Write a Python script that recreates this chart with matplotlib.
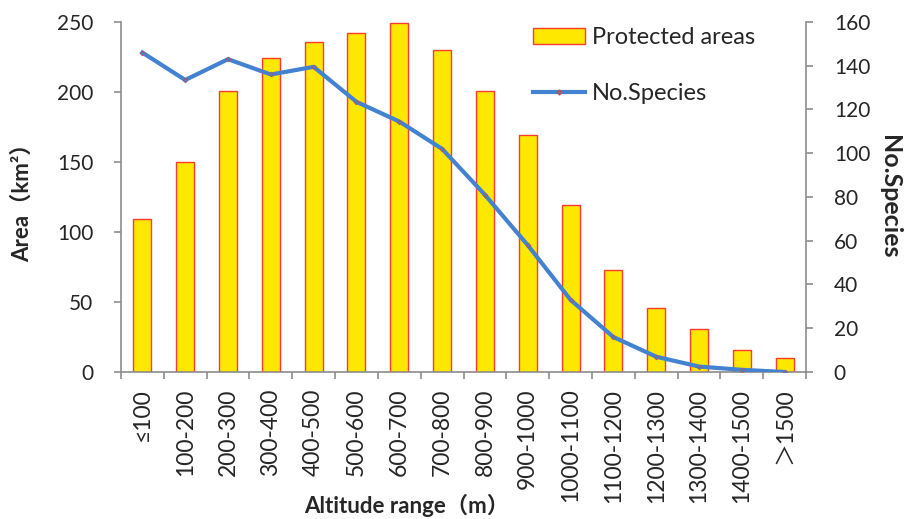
import matplotlib
matplotlib.use("Agg")
import matplotlib.pyplot as plt
from matplotlib.lines import Line2D
from matplotlib.patches import Patch

plt.rcParams['font.family'] = ['Lato', 'Noto Sans CJK SC', 'DejaVu Sans']

categories = ["≤100", "100-200", "200-300", "300-400", "400-500", "500-600", "600-700",
              "700-800", "800-900", "900-1000", "1000-1100", "1100-1200", "1200-1300",
              "1300-1400", "1400-1500", "＞1500"]
area = [109, 150, 201, 224, 236, 242, 249, 230, 201, 169, 119, 73, 46, 31, 16, 10]
species = [146, 133.5, 143, 136, 139.5, 123.5, 114.5, 102, 81, 58, 33, 16, 7, 2.5, 1, 0]

axis_col = "#8c8c8c"
text_col = "#262626"

fig = plt.figure(figsize=(9.05, 5.19), dpi=100)
ax = fig.add_axes([121/905, 1-372/519, (806-121)/905, (372-22)/519])
ax2 = ax.twinx()

x = list(range(len(categories)))
ax.bar(x, area, width=0.42, color="#FFE800", edgecolor="#FF3B30", linewidth=1.0, zorder=2)
ax2.plot(x, species, color="#4382D0", linewidth=3, marker="D", markersize=2.5,
         markerfacecolor="#4382D0", markeredgecolor="#c05050", markeredgewidth=0.5, zorder=3)

ax.set_xlim(-0.5, len(categories) - 0.5)
ax.set_ylim(0, 250)
ax2.set_ylim(0, 160)
ax.set_yticks(range(0, 251, 50))
ax2.set_yticks(range(0, 161, 20))

ax.set_xticks(x)
ax.set_xticklabels(categories, rotation=90, fontsize=16.5, color=text_col)
ax.tick_params(axis='x', length=0, pad=12)
ax.set_xticks([i - 0.5 for i in range(len(categories) + 1)], minor=True)
ax.tick_params(axis='x', which='minor', length=5, width=1.2, color=axis_col, direction='out')

ax.tick_params(axis='y', labelsize=15, labelcolor=text_col, color=axis_col, length=5,
               width=1.2, direction='out', pad=15)
ax2.tick_params(axis='y', labelsize=15, labelcolor=text_col, color=axis_col, length=5,
                width=1.2, direction='out', pad=15)

for a in (ax, ax2):
    a.spines['top'].set_visible(False)
ax.spines['right'].set_visible(False)
ax2.spines['left'].set_visible(False)
ax2.spines['bottom'].set_visible(False)
ax.spines['left'].set_color(axis_col)
ax.spines['bottom'].set_color(axis_col)
ax2.spines['right'].set_color(axis_col)
for sp in (ax.spines['left'], ax.spines['bottom'], ax2.spines['right']):
    sp.set_linewidth(1.2)

ax.set_ylabel("Area（km²）", fontsize=16, fontweight='bold', color=text_col)
ax.yaxis.set_label_coords(-(121-33)/685, 0.5)
ax2.set_ylabel("No.Species", fontsize=18, fontweight='bold', color=text_col, rotation=270)
ax2.yaxis.set_label_coords(1.138, 0.5)
ax.set_xlabel("Altitude range（m）", fontsize=16, fontweight='bold', color=text_col)
ax.xaxis.set_label_coords((407-121)/685, -(494-372)/350)

handles = [Patch(facecolor="#FFE800", edgecolor="#FF3B30", linewidth=1.0),
           Line2D([0], [0], color="#4382D0", linewidth=3, marker="D", markersize=2.5,
                  markerfacecolor="#4382D0", markeredgecolor="#c05050")]
leg = ax2.legend(handles, ["Protected areas", "No.Species"], loc='upper left',
                 bbox_to_anchor=((533-121)/685, (372-27)/350), frameon=False, fontsize=17,
                 borderaxespad=0, borderpad=0,
                 handlelength=2.2, handleheight=0.65, labelspacing=1.5, handletextpad=0.3)
for t in leg.get_texts():
    t.set_color(text_col)

fig.savefig("out.png", dpi=100)
